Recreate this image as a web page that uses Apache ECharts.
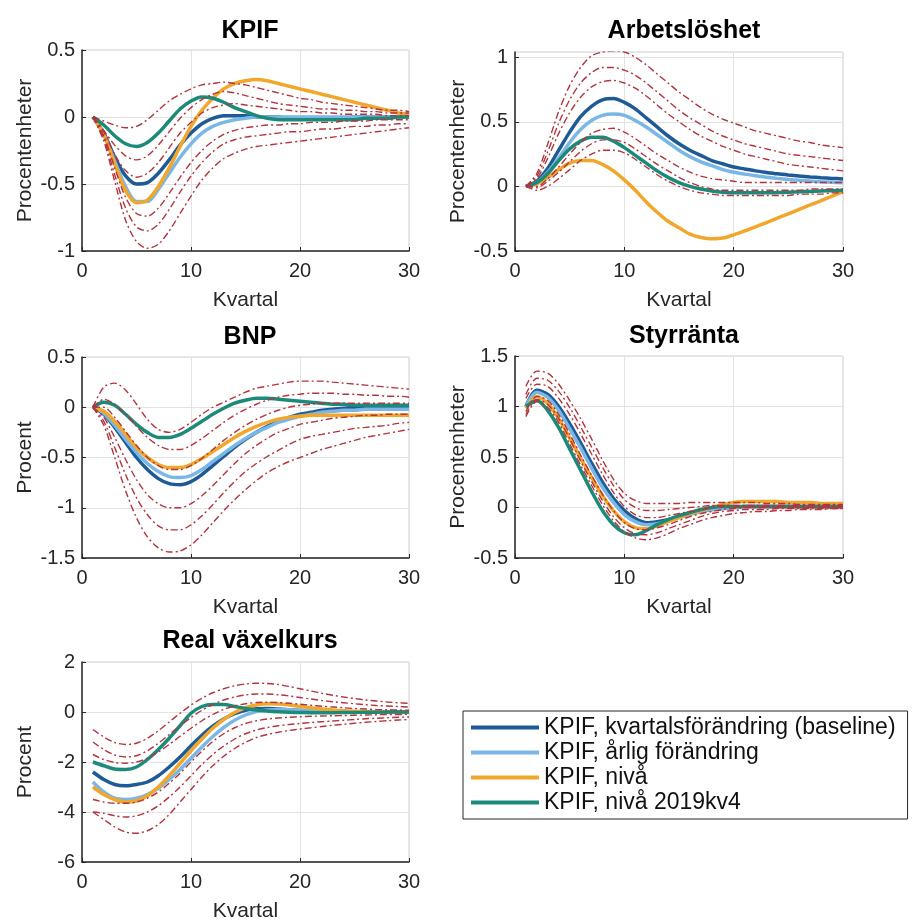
<!DOCTYPE html>
<html><head><meta charset="utf-8">
<script src="https://cdn.jsdelivr.net/npm/echarts@6/dist/echarts.min.js"></script>
<style>html,body{margin:0;padding:0;background:#fff}#c{width:912px;height:923px}</style>
</head><body><div id="c"></div>
<script>
const quarters = [1,2,3,4,5,6,7,8,9,10,11,12,13,14,15,16,17,18,19,20,21,22,23,24,25,26,27,28,29,30];
const seriesNames = ['KPIF, kvartalsförändring (baseline)', 'KPIF, årlig förändring', 'KPIF, nivå', 'KPIF, nivå 2019kv4'];
const panelTitles = ['KPIF', 'Arbetslöshet', 'BNP', 'Styrränta', 'Real växelkurs'];
const yNames = ['Procentenheter', 'Procentenheter', 'Procent', 'Procentenheter', 'Procent'];
const xName = 'Kvartal';
const xTicks = [0, 10, 20, 30];

// ---- KPIF ----
const kpifBase  = [0,-0.12,-0.3,-0.44,-0.5,-0.49,-0.42,-0.32,-0.21,-0.12,-0.05,-0.01,0.01,0.01,0.01,0,0,0,-0.01,-0.01,-0.01,-0.01,-0.01,-0.01,0,0,0,0,0,0];
const kpifArlig = [0,-0.13,-0.33,-0.52,-0.63,-0.63,-0.54,-0.42,-0.3,-0.2,-0.12,-0.07,-0.04,-0.02,-0.01,0,0,0,0,0,0,0,0,0,0,0,0,0,0,0];
const kpifNiva  = [0,-0.13,-0.35,-0.55,-0.64,-0.62,-0.52,-0.38,-0.22,-0.07,0.05,0.14,0.21,0.25,0.27,0.28,0.27,0.25,0.23,0.21,0.19,0.17,0.15,0.13,0.11,0.09,0.07,0.05,0.03,0.02];
const kpif2019  = [0,-0.06,-0.14,-0.2,-0.22,-0.19,-0.12,-0.03,0.06,0.12,0.15,0.14,0.11,0.07,0.04,0.01,-0.01,-0.02,-0.02,-0.02,-0.02,-0.02,-0.02,-0.02,-0.02,-0.01,-0.01,-0.01,0,0];
const kpifU3 = [0,-0.03,-0.06,-0.08,-0.07,-0.02,0.05,0.12,0.17,0.21,0.24,0.25,0.26,0.25,0.24,0.22,0.2,0.18,0.16,0.14,0.13,0.11,0.1,0.09,0.08,0.07,0.06,0.05,0.05,0.04];
const kpifU2 = [0,-0.1,-0.21,-0.29,-0.32,-0.29,-0.21,-0.11,-0.01,0.07,0.13,0.17,0.19,0.18,0.16,0.14,0.12,0.1,0.09,0.08,0.07,0.06,0.06,0.05,0.05,0.04,0.04,0.03,0.03,0.03];
const kpifU1 = [0,-0.11,-0.28,-0.4,-0.45,-0.42,-0.34,-0.23,-0.12,-0.04,0.03,0.07,0.09,0.1,0.09,0.08,0.07,0.06,0.05,0.04,0.04,0.03,0.03,0.02,0.02,0.02,0.02,0.01,0.01,0.01];
const kpifL1 = [0,-0.14,-0.38,-0.6,-0.72,-0.74,-0.68,-0.57,-0.45,-0.34,-0.25,-0.18,-0.13,-0.1,-0.08,-0.07,-0.06,-0.06,-0.05,-0.05,-0.04,-0.04,-0.04,-0.03,-0.03,-0.03,-0.02,-0.02,-0.02,-0.02];
const kpifL2 = [0,-0.16,-0.43,-0.68,-0.82,-0.85,-0.8,-0.69,-0.56,-0.44,-0.34,-0.26,-0.2,-0.17,-0.15,-0.14,-0.13,-0.12,-0.11,-0.11,-0.1,-0.09,-0.09,-0.08,-0.07,-0.07,-0.06,-0.06,-0.05,-0.05];
const kpifL3 = [0,-0.18,-0.48,-0.77,-0.93,-0.98,-0.95,-0.85,-0.72,-0.59,-0.47,-0.38,-0.31,-0.27,-0.24,-0.22,-0.21,-0.2,-0.19,-0.18,-0.17,-0.16,-0.15,-0.14,-0.13,-0.12,-0.11,-0.1,-0.09,-0.08];

// ---- Arbetslöshet ----
const arbBase  = [0,0.04,0.14,0.28,0.42,0.54,0.62,0.67,0.68,0.65,0.6,0.53,0.46,0.39,0.33,0.28,0.24,0.2,0.175,0.15,0.135,0.12,0.108,0.097,0.088,0.08,0.073,0.067,0.062,0.058];
const arbArlig = [0,0.03,0.11,0.22,0.34,0.44,0.51,0.55,0.56,0.55,0.51,0.46,0.4,0.34,0.28,0.23,0.19,0.16,0.13,0.11,0.095,0.082,0.071,0.062,0.054,0.047,0.041,0.036,0.032,0.028];
const arbNiva  = [0,0.02,0.07,0.13,0.18,0.2,0.2,0.17,0.12,0.05,-0.03,-0.12,-0.2,-0.27,-0.32,-0.37,-0.395,-0.405,-0.4,-0.375,-0.345,-0.313,-0.28,-0.246,-0.212,-0.178,-0.144,-0.11,-0.075,-0.04];
const arb2019  = [0,0.03,0.1,0.2,0.29,0.35,0.38,0.38,0.35,0.3,0.24,0.18,0.12,0.07,0.03,0,-0.02,-0.035,-0.045,-0.05,-0.05,-0.05,-0.05,-0.048,-0.045,-0.042,-0.039,-0.036,-0.033,-0.03];
const arbU3 = [0,0.1,0.33,0.58,0.78,0.92,1.01,1.04,1.05,1.04,1.0,0.94,0.87,0.8,0.73,0.67,0.61,0.56,0.52,0.49,0.46,0.43,0.41,0.39,0.37,0.35,0.34,0.32,0.31,0.3];
const arbU2 = [0,0.08,0.27,0.49,0.67,0.8,0.88,0.92,0.92,0.9,0.86,0.8,0.73,0.66,0.59,0.53,0.48,0.43,0.39,0.36,0.33,0.31,0.29,0.27,0.25,0.24,0.23,0.22,0.21,0.2];
const arbU1 = [0,0.06,0.22,0.41,0.57,0.69,0.77,0.81,0.82,0.8,0.76,0.7,0.63,0.56,0.5,0.44,0.39,0.35,0.31,0.28,0.25,0.23,0.21,0.19,0.17,0.16,0.15,0.14,0.13,0.12];
const arbL1 = [0,0,0.06,0.15,0.25,0.34,0.41,0.44,0.45,0.42,0.37,0.31,0.25,0.2,0.15,0.11,0.08,0.06,0.05,0.04,0.03,0.03,0.03,0.03,0.03,0.03,0.03,0.03,0.03,0.03];
const arbL2 = [0,-0.01,0.04,0.11,0.19,0.27,0.33,0.36,0.36,0.34,0.29,0.23,0.17,0.12,0.07,0.03,0,-0.02,-0.03,-0.03,-0.03,-0.03,-0.03,-0.03,-0.03,-0.03,-0.02,-0.02,-0.02,-0.02];
const arbL3 = [0,-0.03,0,0.06,0.13,0.2,0.25,0.28,0.28,0.26,0.21,0.15,0.09,0.04,0,-0.03,-0.05,-0.06,-0.07,-0.07,-0.07,-0.07,-0.07,-0.07,-0.07,-0.06,-0.06,-0.06,-0.05,-0.05];

// ---- BNP ----
const bnpBase  = [0,-0.07,-0.2,-0.35,-0.5,-0.62,-0.71,-0.76,-0.77,-0.74,-0.67,-0.58,-0.49,-0.4,-0.32,-0.25,-0.19,-0.14,-0.1,-0.07,-0.05,-0.03,-0.02,-0.01,0,0,0,0,0,0];
const bnpArlig = [0,-0.06,-0.18,-0.32,-0.45,-0.56,-0.64,-0.69,-0.7,-0.68,-0.62,-0.54,-0.46,-0.38,-0.31,-0.25,-0.2,-0.15,-0.12,-0.09,-0.07,-0.05,-0.04,-0.03,-0.03,-0.02,-0.02,-0.02,-0.02,-0.02];
const bnpNiva  = [0,-0.04,-0.14,-0.27,-0.4,-0.5,-0.57,-0.6,-0.6,-0.57,-0.51,-0.44,-0.37,-0.3,-0.24,-0.19,-0.15,-0.12,-0.1,-0.09,-0.08,-0.08,-0.08,-0.08,-0.08,-0.08,-0.08,-0.08,-0.08,-0.08];
const bnp2019  = [0,0.05,0.02,-0.07,-0.17,-0.25,-0.3,-0.3,-0.27,-0.21,-0.14,-0.07,-0.01,0.04,0.07,0.09,0.09,0.08,0.07,0.06,0.05,0.04,0.03,0.03,0.02,0.02,0.02,0.02,0.02,0.02];
const bnpU3 = [0,0.2,0.24,0.17,0.03,-0.12,-0.22,-0.25,-0.22,-0.15,-0.07,0,0.05,0.1,0.15,0.19,0.21,0.23,0.25,0.26,0.26,0.26,0.25,0.24,0.23,0.22,0.21,0.2,0.19,0.18];
const bnpU2 = [0,0.08,0.03,-0.07,-0.19,-0.3,-0.38,-0.42,-0.42,-0.38,-0.31,-0.23,-0.15,-0.08,-0.02,0.03,0.07,0.1,0.12,0.13,0.14,0.14,0.14,0.13,0.13,0.12,0.12,0.11,0.11,0.1];
const bnpU1 = [0,0,-0.1,-0.24,-0.38,-0.5,-0.58,-0.62,-0.62,-0.58,-0.51,-0.42,-0.33,-0.25,-0.18,-0.12,-0.07,-0.03,0,0.02,0.03,0.04,0.04,0.04,0.04,0.04,0.04,0.04,0.04,0.04];
const bnpL1 = [0,-0.1,-0.3,-0.52,-0.72,-0.87,-0.96,-1.0,-1.0,-0.96,-0.88,-0.78,-0.67,-0.56,-0.46,-0.38,-0.31,-0.25,-0.21,-0.17,-0.15,-0.13,-0.11,-0.1,-0.09,-0.08,-0.08,-0.07,-0.07,-0.07];
const bnpL2 = [0,-0.14,-0.4,-0.67,-0.9,-1.07,-1.18,-1.22,-1.22,-1.17,-1.08,-0.97,-0.85,-0.74,-0.64,-0.56,-0.49,-0.43,-0.37,-0.32,-0.29,-0.27,-0.25,-0.23,-0.21,-0.2,-0.19,-0.18,-0.16,-0.15];
const bnpL3 = [0,-0.18,-0.5,-0.83,-1.1,-1.29,-1.4,-1.44,-1.43,-1.37,-1.27,-1.15,-1.03,-0.92,-0.82,-0.73,-0.65,-0.59,-0.54,-0.5,-0.46,-0.42,-0.39,-0.36,-0.33,-0.3,-0.28,-0.26,-0.24,-0.22];

// ---- Styrränta ----
const styBase  = [1.0,1.16,1.12,1.0,0.83,0.64,0.44,0.25,0.09,-0.03,-0.11,-0.15,-0.14,-0.12,-0.09,-0.06,-0.04,-0.02,-0.01,0,0.01,0.01,0.01,0.01,0.01,0.01,0.01,0.01,0.01,0.01];
const styArlig = [1.0,1.14,1.09,0.96,0.78,0.59,0.39,0.2,0.05,-0.07,-0.14,-0.17,-0.16,-0.13,-0.1,-0.07,-0.04,-0.02,-0.01,0,0.01,0.01,0.01,0.01,0.01,0.01,0.01,0.01,0.01,0.01];
const styNiva  = [0.98,1.1,1.03,0.88,0.69,0.49,0.3,0.12,-0.03,-0.14,-0.2,-0.21,-0.18,-0.14,-0.1,-0.06,-0.03,0,0.03,0.05,0.06,0.06,0.06,0.06,0.05,0.05,0.05,0.04,0.04,0.04];
const sty2019  = [1.0,1.06,0.96,0.79,0.58,0.37,0.16,-0.03,-0.17,-0.25,-0.27,-0.23,-0.17,-0.12,-0.08,-0.05,-0.02,0,0.01,0.01,0.01,0.01,0.01,0.01,0.01,0.01,0.01,0.01,0.01,0.01];
const styU3 = [1.2,1.35,1.33,1.22,1.06,0.88,0.68,0.47,0.28,0.14,0.07,0.04,0.04,0.04,0.04,0.05,0.05,0.05,0.05,0.05,0.05,0.05,0.04,0.04,0.04,0.03,0.03,0.03,0.03,0.03];
const styU2 = [1.12,1.28,1.26,1.15,0.99,0.8,0.6,0.4,0.22,0.08,0,-0.03,-0.03,-0.02,-0.01,0,0.01,0.02,0.02,0.02,0.02,0.02,0.02,0.02,0.02,0.02,0.02,0.02,0.02,0.02];
const styU1 = [1.08,1.22,1.2,1.08,0.92,0.73,0.53,0.33,0.15,0.01,-0.07,-0.1,-0.1,-0.08,-0.06,-0.04,-0.02,0,0.01,0.01,0.01,0.01,0.01,0.01,0.01,0.01,0.01,0.01,0.01,0.01];
const styL1 = [0.95,1.1,1.06,0.92,0.73,0.52,0.32,0.13,-0.03,-0.15,-0.21,-0.22,-0.2,-0.17,-0.13,-0.09,-0.06,-0.04,-0.02,-0.01,0,0,0,0,0,0,0,0,0,0];
const styL2 = [0.92,1.07,1.02,0.88,0.68,0.46,0.26,0.07,-0.09,-0.2,-0.26,-0.27,-0.25,-0.21,-0.17,-0.13,-0.09,-0.06,-0.04,-0.03,-0.02,-0.02,-0.02,-0.01,-0.01,-0.01,-0.01,-0.01,-0.01,-0.01];
const styL3 = [0.9,1.05,0.99,0.84,0.63,0.42,0.22,0.03,-0.13,-0.24,-0.3,-0.32,-0.3,-0.26,-0.21,-0.17,-0.13,-0.1,-0.08,-0.06,-0.05,-0.04,-0.04,-0.03,-0.03,-0.02,-0.02,-0.02,-0.01,-0.01];

// ---- Real växelkurs ----
const rvBase  = [-2.4,-2.7,-2.9,-2.95,-2.9,-2.8,-2.55,-2.2,-1.8,-1.35,-0.93,-0.57,-0.28,-0.07,0.07,0.13,0.14,0.12,0.09,0.06,0.04,0.03,0.02,0.01,0,0,0,0,0,0];
const rvArlig = [-2.8,-3.2,-3.45,-3.5,-3.45,-3.3,-3.05,-2.7,-2.3,-1.85,-1.4,-0.98,-0.62,-0.33,-0.12,0.02,0.08,0.1,0.09,0.07,0.05,0.03,0.02,0.01,0,0,0,0,0,0];
const rvNiva  = [-3.0,-3.3,-3.5,-3.6,-3.55,-3.35,-3.0,-2.55,-2.05,-1.55,-1.08,-0.65,-0.3,-0.02,0.17,0.28,0.33,0.32,0.28,0.22,0.17,0.12,0.08,0.05,0.03,0.02,0.01,0,0,0];
const rv2019  = [-2.0,-2.15,-2.28,-2.3,-2.2,-1.9,-1.5,-1.05,-0.55,-0.05,0.22,0.3,0.3,0.22,0.14,0.08,0.04,0.01,-0.01,-0.02,-0.03,-0.03,-0.03,-0.02,-0.02,-0.01,-0.01,0,0,0];
const rvU3 = [-0.7,-1.0,-1.22,-1.3,-1.25,-1.05,-0.75,-0.4,-0.05,0.28,0.55,0.77,0.93,1.05,1.12,1.15,1.14,1.1,1.02,0.93,0.84,0.75,0.67,0.6,0.54,0.48,0.44,0.4,0.37,0.35];
const rvU2 = [-1.2,-1.5,-1.72,-1.8,-1.75,-1.55,-1.25,-0.9,-0.55,-0.22,0.07,0.3,0.48,0.6,0.68,0.72,0.72,0.69,0.64,0.58,0.52,0.46,0.41,0.37,0.33,0.29,0.26,0.24,0.22,0.2];
const rvU1 = [-1.7,-1.9,-2.02,-2.05,-2.0,-1.85,-1.6,-1.3,-0.97,-0.65,-0.35,-0.1,0.1,0.24,0.33,0.38,0.39,0.38,0.35,0.31,0.27,0.23,0.2,0.17,0.14,0.12,0.1,0.09,0.08,0.07];
const rvL1 = [-3.5,-3.6,-3.65,-3.65,-3.6,-3.45,-3.2,-2.85,-2.45,-2.0,-1.57,-1.18,-0.87,-0.63,-0.46,-0.35,-0.28,-0.24,-0.21,-0.19,-0.17,-0.16,-0.15,-0.14,-0.13,-0.12,-0.11,-0.1,-0.1,-0.09];
const rvL2 = [-4.0,-4.05,-4.15,-4.2,-4.15,-4.0,-3.75,-3.4,-3.0,-2.55,-2.1,-1.7,-1.36,-1.08,-0.87,-0.72,-0.62,-0.55,-0.5,-0.46,-0.42,-0.39,-0.36,-0.33,-0.3,-0.27,-0.25,-0.23,-0.21,-0.2];
const rvL3 = [-4.0,-4.3,-4.6,-4.8,-4.85,-4.75,-4.5,-4.1,-3.6,-3.1,-2.6,-2.15,-1.77,-1.46,-1.21,-1.02,-0.9,-0.81,-0.74,-0.68,-0.63,-0.58,-0.53,-0.49,-0.45,-0.41,-0.38,-0.35,-0.32,-0.3];

// y-axis ranges [min, max, interval]
const yRanges = [[-1, 0.5, 0.5], [-0.5, 1.04, 0.5], [-1.5, 0.5, 0.5], [-0.5, 1.5, 0.5], [-6, 2, 2]];

const panelLines = [
  [kpifBase, kpifArlig, kpifNiva, kpif2019],
  [arbBase, arbArlig, arbNiva, arb2019],
  [bnpBase, bnpArlig, bnpNiva, bnp2019],
  [styBase, styArlig, styNiva, sty2019],
  [rvBase, rvArlig, rvNiva, rv2019]
];
const panelBands = [
  [kpifU3, kpifU2, kpifU1, kpifL1, kpifL2, kpifL3],
  [arbU3, arbU2, arbU1, arbL1, arbL2, arbL3],
  [bnpU3, bnpU2, bnpU1, bnpL1, bnpL2, bnpL3],
  [styU3, styU2, styU1, styL1, styL2, styL3],
  [rvU3, rvU2, rvU1, rvL1, rvL2, rvL3]
];

const FONT = '"Liberation Sans", Arial, Helvetica, sans-serif';
const lineColors = ['#1d5a96', '#7ab7e6', '#f0a72c', '#1c8a78'];
const bandColor = '#b3343c';
const layout = [
  {left: 82, top: 50, width: 327, height: 201, cx: 245, ty: 14},
  {left: 515, top: 52, width: 328, height: 199, cx: 679, ty: 14},
  {left: 82, top: 357, width: 327, height: 201, cx: 245, ty: 320},
  {left: 515, top: 356, width: 328, height: 202, cx: 679, ty: 319},
  {left: 82, top: 662, width: 327, height: 200, cx: 245, ty: 624}
];

const grids = [], xAxes = [], yAxes = [], series = [], titles = [];
layout.forEach((L, p) => {
  grids.push({left: L.left, top: L.top, width: L.width, height: L.height, show: true,
    borderColor: '#d0d0d0', borderWidth: 1, backgroundColor: 'transparent', containLabel: false});
  titles.push({text: panelTitles[p], left: L.cx, top: L.ty, textAlign: 'center',
    textStyle: {fontFamily: FONT, fontSize: 25, fontWeight: 'bold', color: '#000'}});
  xAxes.push({type: 'value', gridIndex: p, min: xTicks[0], max: xTicks[xTicks.length - 1], interval: xTicks[1] - xTicks[0],
    name: xName, nameLocation: 'middle', nameGap: 39,
    nameTextStyle: {fontFamily: FONT, fontSize: 21, color: '#262626'},
    axisLine: {show: true, onZero: false, lineStyle: {color: '#262626', width: 1.5}},
    axisTick: {show: true, inside: true, length: 4, lineStyle: {color: '#262626'}},
    axisLabel: {fontFamily: FONT, fontSize: 20, color: '#262626', margin: 10},
    splitLine: {show: true, lineStyle: {color: '#e3e3e3', width: 1}}});
  const yr = yRanges[p];
  yAxes.push({type: 'value', gridIndex: p, min: yr[0], max: yr[1], interval: yr[2],
    name: yNames[p], nameLocation: 'middle', nameGap: 46,
    nameTextStyle: {fontFamily: FONT, fontSize: 21, color: '#262626'},
    axisLine: {show: true, onZero: false, lineStyle: {color: '#262626', width: 1.5}},
    axisTick: {show: true, inside: true, length: 4, lineStyle: {color: '#262626'}},
    axisLabel: {fontFamily: FONT, fontSize: 20, color: '#262626', margin: 7, showMaxLabel: p !== 1},
    splitLine: {show: true, lineStyle: {color: '#e3e3e3', width: 1}}});
  panelLines[p].forEach((arr, k) => {
    series.push({type: 'line', name: seriesNames[k], xAxisIndex: p, yAxisIndex: p,
      data: arr.map((v, i) => [quarters[i], v]), showSymbol: false, smooth: 0.3,
      lineStyle: {color: lineColors[k], width: 3.5}, itemStyle: {color: lineColors[k]}, z: 2, silent: true});
  });
  panelBands[p].forEach((arr) => {
    series.push({type: 'line', name: 'band', xAxisIndex: p, yAxisIndex: p,
      data: arr.map((v, i) => [quarters[i], v]), showSymbol: false, smooth: 0.3,
      lineStyle: {color: bandColor, width: 1.4, type: [7, 3, 2, 3]}, itemStyle: {color: bandColor}, z: 3, silent: true});
  });
});

const chart = echarts.init(document.getElementById('c'), null, {renderer: 'canvas'});
chart.setOption({
  animation: false,
  backgroundColor: '#fff',
  title: titles,
  grid: grids, xAxis: xAxes, yAxis: yAxes, series: series,
  legend: {data: seriesNames, orient: 'vertical', left: 463, top: 711,
    borderColor: '#262626', borderWidth: 1, padding: [5, 12, 5, 8], itemGap: 2,
    itemWidth: 68, itemHeight: 4, icon: 'rect', selectedMode: false,
    textStyle: {fontFamily: FONT, fontSize: 23, lineHeight: 23, color: '#111'}}
});
</script>
</body></html>
